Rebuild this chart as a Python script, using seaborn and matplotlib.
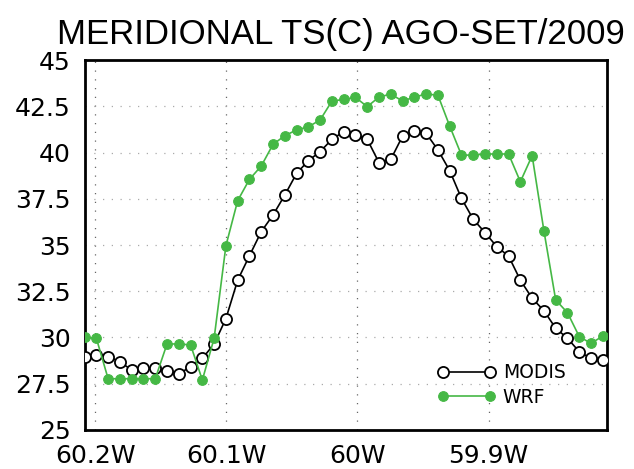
import numpy as np
import pandas as pd
import matplotlib
matplotlib.use("Agg")
import matplotlib.pyplot as plt
import seaborn as sns

# longitudes of the transect (regular ~1 km grid, 45 points)
lon = np.linspace(-60.208, -59.813, 45)

modis = [28.93, 29.07, 28.96, 28.69, 28.24, 28.33, 28.33, 28.20, 28.03, 28.42,
         28.87, 29.65, 31.02, 33.10, 34.42, 35.72, 36.62, 37.70, 38.87, 39.56,
         40.05, 40.71, 41.13, 40.95, 40.71, 39.45, 39.63, 40.89, 41.16, 41.04,
         40.14, 39.02, 37.52, 36.39, 35.67, 34.91, 34.40, 33.10, 32.12, 31.45,
         30.50, 29.96, 29.23, 28.87, 28.78]

wrf = [30.00, 29.96, 27.77, 27.77, 27.77, 27.77, 27.77, 29.65, 29.65, 29.60,
       27.70, 29.96, 34.96, 37.40, 38.55, 39.27, 40.44, 40.91, 41.22, 41.39,
       41.76, 42.78, 42.87, 42.98, 42.48, 43.00, 43.16, 42.78, 43.00, 43.16,
       43.10, 41.43, 39.86, 39.86, 39.92, 39.92, 39.92, 38.42, 39.83, 35.77,
       32.03, 31.34, 30.05, 29.68, 30.08]

xticks = [-60.2, -60.1, -60.0, -59.9]
xlabels = ["60.2W", "60.1W", "60W", "59.9W"]
yticks = [25, 27.5, 30, 32.5, 35, 37.5, 40, 42.5, 45]
ylabels = ["25", "27.5", "30", "32.5", "35", "37.5", "40", "42.5", "45"]

df = pd.DataFrame({"lon": lon, "MODIS": modis, "WRF": wrf})

sns.set_style("white")
plt.rcParams["font.family"] = ["DejaVu Sans"]

fig = plt.figure(figsize=(6.34, 4.69), dpi=100)
ax = fig.add_axes([0.1334, 0.0832, 0.8236, 0.7888])

green = "#45b845"
sns.lineplot(data=df, x="lon", y="MODIS", ax=ax, color="black", lw=1.2,
             marker="o", markersize=8, markerfacecolor="white",
             markeredgecolor="black", markeredgewidth=1.3, label="MODIS",
             zorder=3)
sns.lineplot(data=df, x="lon", y="WRF", ax=ax, color=green, lw=1.2,
             marker="o", markersize=7, markerfacecolor=green,
             markeredgecolor=green, label="WRF", zorder=4)

ax.set_xlim(lon[0], lon[-1])
ax.set_ylim(25, 45)
ax.set_xticks(xticks)
ax.set_xticklabels(xlabels)
ax.set_yticks(yticks)
ax.set_yticklabels(ylabels)
ax.set_xlabel("")
ax.set_ylabel("")

for x in xticks:
    ax.axvline(x, color="#666666", lw=0.9, ls=(0, (1, 6)), zorder=1)
for y in yticks[1:-1]:
    ax.axhline(y, color="#aaaaaa", lw=0.9, ls=(0, (1, 6)), zorder=1)

for s in ax.spines.values():
    s.set_linewidth(2)
    s.set_color("black")

ax.tick_params(axis="both", which="major", direction="out", length=9,
               width=1.5, labelsize=18, pad=1, colors="black")
ax.set_xticks(np.arange(-60.2, -59.81, 0.01), minor=True)
ax.tick_params(axis="x", which="minor", direction="in", length=3, width=0.6)

leg = ax.legend(loc="upper left", bbox_to_anchor=(0.675, 0.18), frameon=False,
                fontsize=13.5, numpoints=2, handlelength=3.1, handletextpad=0.4,
                labelspacing=0.3, borderpad=0, borderaxespad=0)
for t in leg.get_texts():
    t.set_color("black")

fig.text(0.09, 0.906, "MERIDIONAL TS(C) AGO-SET/2009", fontsize=25,
         family="Liberation Sans", ha="left", va="baseline", color="black")

fig.savefig("out.png", dpi=100)
